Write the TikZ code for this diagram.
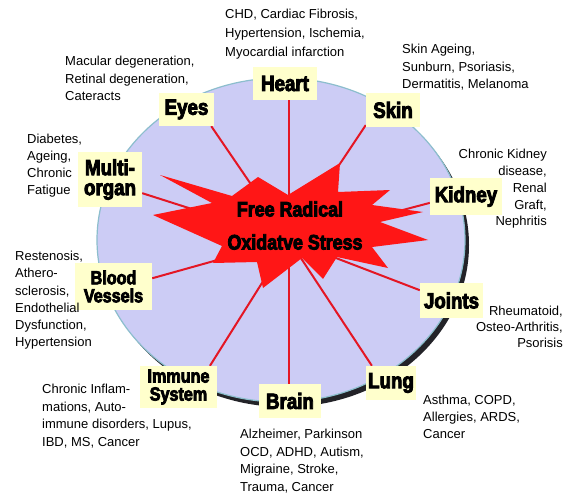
\documentclass[tikz,border=0pt]{standalone}
\usepackage{fontspec}
\setmainfont{Liberation Sans}
\newfontfamily\labfont[FakeStretch=0.85,FakeBold=4]{Liberation Sans}
\newfontfamily\descfont{Liberation Sans}
\pgfdeclarelayer{bg}
\pgfdeclarelayer{spokes}
\pgfsetlayers{bg,spokes,main}
\definecolor{disc}{RGB}{204,204,245}
\definecolor{rim}{RGB}{140,190,205}
\definecolor{boxy}{RGB}{255,255,204}
\definecolor{spoke}{RGB}{228,22,36}
\definecolor{burst}{RGB}{255,22,22}
\definecolor{discshadow}{RGB}{35,35,40}
\begin{document}
\begin{tikzpicture}[x=1pt,y=-1pt,
  organ/.style={fill=boxy, inner sep=0pt, align=center, text=black,
    font=\labfont\bfseries\fontsize{22}{20}\selectfont},
  organsmall/.style={organ, font=\labfont\bfseries\fontsize{19}{18}\selectfont},
  burstlabel/.style={inner sep=0pt, text=black,
    font=\labfont\bfseries\fontsize{21}{21}\selectfont},
  descl/.style={inner sep=0pt, anchor=north west, align=left, text=black,
    font=\descfont\fontsize{13}{17.5}\selectfont},
  descr/.style={descl, anchor=north east, align=right},
  spokeline/.style={draw=spoke, line width=2pt}]
\useasboundingbox (0,0) rectangle (565,495);
\begin{pgfonlayer}{bg}
  \fill[white] (0,0) rectangle (565,495);
  \fill[fill=discshadow] (285,245) ellipse [x radius=184pt, y radius=162pt];
  \fill[fill=disc] (281,240) ellipse [x radius=184pt, y radius=162pt];
  \draw[draw=rim, line width=1.2pt] (281,240) ellipse [x radius=184pt, y radius=162pt];
\end{pgfonlayer}
% starburst
\fill[fill=burst] (160,175) -- (232,196) -- (258,177) -- (288,195) -- (340,163)
  -- (338,192) -- (390,190) -- (372,205) -- (423,212) -- (380,222)
  -- (428,240) -- (372,247) -- (388,268) -- (337,257) -- (323,279)
  -- (302,258) -- (263,288) -- (257,262) -- (213,263) -- (222,246)
  -- (153,215) -- (212,203) -- cycle;
\coordinate (hub) at (289,240);
\node[burstlabel] (fr) at (290,209) {Free Radical};
\node[burstlabel] (os) at (295,242) {Oxidatve Stress};
% organ boxes
\node[organ, minimum width=64pt, minimum height=33pt] (heart) at (285,83.5) {Heart};
\node[organ, minimum width=55pt, minimum height=33pt] (eyes) at (186.5,109.5) {Eyes};
\node[organ, minimum width=54pt, minimum height=34pt] (skin) at (393,110) {Skin};
\node[organ, minimum width=64pt, minimum height=55pt] (multi) at (110,179.5) {Multi-\\organ};
\node[organ, minimum width=72pt, minimum height=37pt] (kidney) at (466,196.5) {Kidney};
\node[organsmall, minimum width=77pt, minimum height=47pt] (blood) at (113.5,286.5) {Blood\\Vessels};
\node[organ, minimum width=63pt, minimum height=35pt] (joints) at (451.5,300.5) {Joints};
\node[organsmall, minimum width=77pt, minimum height=42pt] (immune) at (178.5,387) {Immune\\System};
\node[organ, minimum width=62pt, minimum height=34pt] (brain) at (290,401) {Brain};
\node[organ, minimum width=50pt, minimum height=34pt] (lung) at (391,383) {Lung};
% spokes
\begin{pgfonlayer}{spokes}
  \draw[spokeline] (hub) -- (hub |- heart.south);
  \draw[spokeline] (hub) -- (hub |- brain.north);
  \draw[spokeline] (hub) -- (eyes.-34);
  \draw[spokeline] (hub) -- (skin.209);
  \draw[spokeline] (hub) -- (multi.-23);
  \draw[spokeline] (hub) -- (kidney.190);
  \draw[spokeline] (hub) -- (blood.12);
  \draw[spokeline] (hub) -- (joints.162);
  \draw[spokeline] (hub) -- (lung.138);
  \draw[spokeline] (hub) -- (immune.34);
\end{pgfonlayer}
% descriptions
\node[descl, font=\descfont\fontsize{13}{19}\selectfont] (heartd) at (225,9) {CHD, Cardiac Fibrosis,\\Hypertension, Ischemia,\\Myocardial infarction};
\node[descl] (eyesd) at (65,56) {Macular degeneration,\\Retinal degeneration,\\Cateracts};
\node[descl] (skind) at (402,44) {Skin Ageing,\\Sunburn, Psoriasis,\\Dermatitis, Melanoma};
\node[descl, font=\descfont\fontsize{13}{16.8}\selectfont] (multid) at (27,134) {Diabetes,\\Ageing,\\Chronic\\Fatigue};
\node[descr, font=\descfont\fontsize{13}{16.8}\selectfont] (kidneyd) at (547,149) {Chronic Kidney\\disease,\\Renal\\Graft,\\Nephritis};
\node[descl, font=\descfont\fontsize{13}{17.2}\selectfont] (bloodd) at (15,251) {Restenosis,\\Athero-\\sclerosis,\\Endothelial\\Dysfunction,\\Hypertension};
\node[descr, font=\descfont\fontsize{13}{16}\selectfont] (jointsd) at (563,306) {Rheumatoid,\\Osteo-Arthritis,\\Psorisis};
\node[descl] (immuned) at (42,384) {Chronic Inflam-\\mations, Auto-\\immune disorders, Lupus,\\IBD, MS, Cancer};
\node[descl] (braind) at (240,429) {Alzheimer, Parkinson\\OCD, ADHD, Autism,\\Migraine, Stroke,\\Trauma, Cancer};
\node[descl, font=\descfont\fontsize{13}{16.8}\selectfont] (lungd) at (423,395) {Asthma, COPD,\\Allergies, ARDS,\\Cancer};
\end{tikzpicture}
\end{document}
